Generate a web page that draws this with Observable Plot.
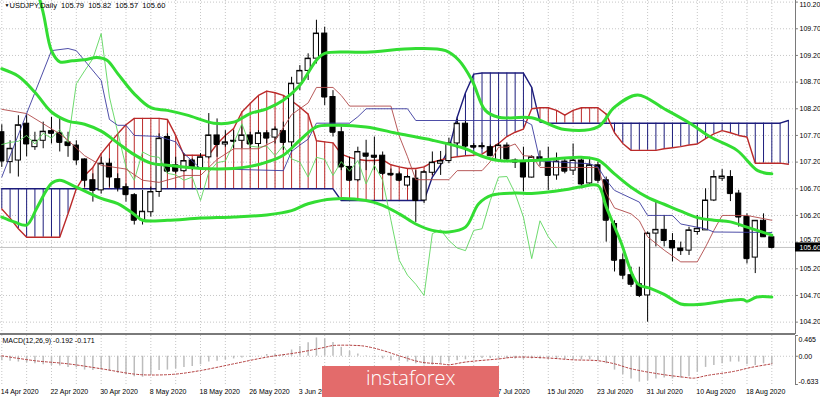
<!DOCTYPE html>
<html><head><meta charset="utf-8">
<script src="https://cdn.jsdelivr.net/npm/d3@7"></script>
<script src="https://cdn.jsdelivr.net/npm/@observablehq/plot@0.6"></script>
<style>
html,body{margin:0;padding:0;background:#fff;}
body{width:820px;height:397px;overflow:hidden;position:relative;font-family:"Liberation Sans",Arial,sans-serif;}
#main svg,#macd svg{display:block;}
#logo{position:absolute;left:322px;top:366px;width:177px;height:31px;background:#e36b6b;}
#logotext{position:absolute;left:366px;top:368px;font-family:"Open Sans",sans-serif;font-weight:300;font-size:20px;line-height:20px;color:#fff;white-space:nowrap;}
</style></head>
<body>
<div id="main"></div>
<div id="macd"></div>
<div id="logo"></div>
<div id="logotext">instaforex</div>
<script>
// ---- Data ----
const header = "USDJPY,Daily\u00A0\u00A0105.79\u00A0\u00A0105.82\u00A0\u00A0105.57\u00A0\u00A0105.60";
const macdHeader = "MACD(12,26,9) -0.192 -0.171";
const opens = [107.76,107.20,107.23,107.92,107.48,107.60,107.78,107.74,107.57,107.51,
 107.25,106.86,106.67,107.17,106.88,106.73,106.58,106.11,106.26,106.64,
 107.67,107.14,107.03,107.23,107.08,107.29,107.70,107.53,107.60,107.60,
 107.70,107.54,107.74,107.66,107.78,107.57,108.67,108.91,109.14,109.61,
 108.42,107.76,107.11,106.86,107.36,107.32,107.32,106.98,106.97,106.76,
 106.89,106.48,107.00,107.17,107.22,107.55,107.92,107.50,107.48,107.48,
 107.23,107.51,107.23,107.20,106.91,107.29,107.21,106.95,107.21,107.04,
 107.23,106.80,107.14,106.86,106.04,105.36,105.08,104.91,104.70,105.86,
 105.93,105.72,105.58,105.54,105.89,105.92,106.48,106.89,106.92,106.61,
 106.17,105.41,106.10,105.79];
const highs = [107.90,107.60,108.07,108.08,107.76,107.95,108.04,108.04,107.76,107.60,
 107.26,106.98,107.29,107.26,106.98,106.79,106.61,106.67,106.73,107.73,
 107.73,107.29,107.36,107.26,107.36,108.11,108.01,107.79,107.79,107.89,
 107.76,107.79,107.79,107.86,107.95,108.79,109.01,109.23,109.86,109.73,
 108.54,107.86,107.29,107.48,107.61,107.67,107.39,107.07,107.01,106.95,
 107.04,107.04,107.39,107.40,107.65,108.00,107.98,107.55,107.56,107.52,
 107.55,107.56,107.26,107.48,107.32,107.41,107.48,107.37,107.26,107.54,
 107.26,107.29,107.20,106.92,106.10,105.48,105.23,105.23,105.89,106.48,
 106.20,105.86,105.70,105.98,106.20,106.70,107.04,107.06,107.04,106.67,
 106.23,106.10,106.23,105.82];
const lows = [107.10,106.98,106.92,107.30,107.42,107.45,107.54,107.39,107.29,107.14,
 106.73,106.45,106.60,106.73,106.64,106.45,106.02,106.02,106.17,106.54,
 106.98,106.98,107.01,107.04,107.04,107.26,107.29,107.48,107.45,107.45,
 107.45,107.48,107.54,107.54,107.42,107.39,108.54,108.73,109.04,108.26,
 107.67,107.04,106.83,106.83,107.04,107.04,106.95,106.93,106.83,106.73,
 106.07,106.42,106.95,106.95,107.17,107.45,107.40,107.44,107.44,107.30,
 107.20,107.22,107.08,106.64,106.90,107.12,106.67,106.86,106.98,106.95,
 106.70,106.75,106.80,105.70,105.14,105.00,104.85,104.66,104.20,105.61,
 105.61,105.33,105.45,105.45,105.83,105.92,106.46,106.84,106.46,105.98,
 105.29,105.11,105.79,105.57];
const closes = [107.22,107.45,107.89,107.54,107.60,107.77,107.74,107.57,107.51,107.24,
 106.86,106.67,107.17,106.92,106.72,106.59,106.11,106.27,106.64,107.64,
 107.03,107.03,107.22,107.08,107.29,107.70,107.53,107.57,107.59,107.70,
 107.54,107.74,107.65,107.81,107.57,108.67,108.91,109.14,109.61,108.42,
 107.76,107.11,106.86,107.39,107.31,107.29,106.99,106.96,106.86,106.92,
 106.48,107.01,107.19,107.22,107.55,107.92,107.50,107.48,107.50,107.32,
 107.51,107.26,107.20,106.92,107.29,107.25,106.95,107.21,107.03,107.23,
 106.79,107.14,106.86,106.11,105.36,105.08,104.91,104.70,105.86,105.93,
 105.73,105.59,105.54,105.92,105.95,106.48,106.92,106.93,106.61,106.17,
 105.39,106.10,105.80,105.60];
const lastPrice = 105.60;

// Ichimoku cloud (per bar, extends 2 bars beyond last candle)
const spanA = [106.32,106.15,105.95,105.79,105.79,105.79,105.79,105.79,106.23,106.70,
 106.95,107.10,107.36,107.55,107.73,107.90,108.02,108.02,108.02,108.02,
 108.00,107.70,107.33,107.33,107.33,107.33,107.54,107.70,107.83,108.14,
 108.30,108.45,108.53,108.50,108.45,108.35,108.23,108.10,107.60,107.58,
 107.56,107.35,107.29,107.25,107.23,107.23,107.24,107.15,107.11,107.08,
 107.08,107.11,107.20,107.24,107.28,107.30,107.32,107.33,107.35,107.45,
 107.55,107.68,107.76,107.82,108.20,108.22,108.22,108.17,108.08,108.17,
 108.22,108.22,108.22,108.10,107.75,107.55,107.42,107.42,107.42,107.42,
 107.45,107.47,107.49,107.52,107.54,107.64,107.73,107.79,107.75,107.70,
 107.67,107.18,107.18,107.18,107.18,107.16];
const spanB = [106.70,106.70,106.70,106.70,106.70,106.70,106.70,106.70,106.70,106.70,
 106.70,106.70,106.70,106.70,106.70,106.70,106.70,106.70,106.70,106.70,
 106.70,106.70,106.70,106.70,106.70,106.70,106.70,106.70,106.70,106.70,
 106.70,106.70,106.70,106.70,106.70,106.70,106.70,106.70,106.70,106.70,
 106.70,106.48,106.48,106.48,106.48,106.48,106.48,106.48,106.48,106.48,
 106.48,106.48,106.92,107.15,107.45,108.04,108.50,108.85,108.87,108.87,
 108.87,108.87,108.87,108.87,108.60,107.95,107.93,107.93,107.93,107.93,
 107.93,107.93,107.93,107.93,107.93,107.93,107.93,107.93,107.93,107.93,
 107.93,107.93,107.93,107.93,107.93,107.93,107.93,107.93,107.93,107.93,
 107.93,107.93,107.93,107.93,107.93,107.98];

// Tenkan / Kijun (bar index, value)
const tenkanPts = [[0,108.19],[3,108.11],[5,107.92],[7,107.73],[8,107.61],[10,107.32],[12,107.14],[15,107.07],[17,106.86],[19,106.82],[22,106.95],[24,106.95],[26,107.25],[28,107.45],[31,107.45],[33,107.60],[35,108.09],[36,108.20],[37,108.31],[38,108.60],[40,108.60],[41,108.45],[42,108.25],[47,108.25],[48,107.69],[49,107.30],[50,106.87],[54,106.87],[55,107.04],[58,107.04],[59,107.21],[60,107.48],[61,107.48],[62,107.54],[63,107.32],[64,107.31],[65,107.10],[72,107.10],[73,106.62],[74,106.34],[76,106.23],[77,106.10],[78,105.80],[80,105.55],[82,105.33],[84,105.33],[85,105.61],[86,105.92],[87,106.20],[90,106.20],[93,106.11]];
const kijunPts = [[0,106.92],[3,108.11],[6,109.29],[8,109.33],[9,109.29],[12,108.73],[13,108.00],[14,107.89],[15,107.89],[16,107.70],[19,107.68],[21,107.58],[22,107.36],[24,107.08],[34,107.04],[35,107.40],[36,107.52],[37,107.63],[38,107.93],[42,107.93],[43,108.05],[44,108.20],[49,108.20],[50,107.98],[63,107.98],[64,107.90],[65,107.22],[71,107.17],[72,107.11],[73,106.86],[74,106.67],[77,106.45],[78,106.20],[81,106.20],[82,106.04],[85,105.95],[86,105.89],[93,105.88]];

// Bollinger bands (bar index, value)
const bbUpperPts = [[0,111.90],[2,111.30],[4,110.55],[5,110.00],[6,109.29],[7,109.08],[8.5,109.10],[10,109.12],[11.5,109.16],[12.7,109.11],[14,108.86],[16,108.48],[18,108.22],[20,108.17],[22.4,108.08],[25.6,107.93],[28,107.95],[30,108.11],[32,108.20],[34,108.36],[36,108.64],[38,109.11],[39,109.24],[44,109.26],[50,109.33],[53.6,109.29],[55.2,109.11],[56.8,108.73],[58.4,108.17],[60,108.04],[64,108.03],[68,107.81],[72,107.86],[74,108.23],[76.8,108.46],[80,108.20],[83.2,107.92],[85.6,107.67],[88.8,107.42],[91.3,107.04],[93,106.98]];
const bbMidPts = [[0,108.95],[2,108.81],[4,108.51],[6,108.14],[8,107.97],[10,107.91],[12,107.78],[14,107.56],[16,107.34],[18,107.18],[20,107.14],[24,107.08],[28,107.08],[30,107.12],[32,107.20],[34,107.33],[36,107.61],[38,107.86],[40,107.89],[44,107.86],[48,107.73],[52,107.61],[56,107.45],[58,107.31],[60,107.23],[64,107.23],[70,107.29],[72,107.24],[74,106.98],[76,106.73],[78,106.54],[80,106.41],[82,106.28],[84,106.16],[86,106.11],[88,106.08],[90,105.98],[93,105.83]];
const bbLowerPts = [[0,106.17],[1.5,106.08],[3,106.02],[4.3,106.36],[6,106.80],[7,106.86],[9,106.73],[12,106.52],[14,106.42],[16,106.22],[17,106.11],[20,106.11],[24,106.15],[28,106.17],[32,106.21],[35,106.29],[37,106.42],[40,106.51],[44,106.48],[46,106.39],[48,106.23],[50,106.04],[52,105.92],[54,105.89],[56,105.98],[57.6,106.42],[59.2,106.58],[62,106.62],[64,106.61],[68,106.68],[70,106.74],[72,106.76],[73,106.36],[74.7,105.73],[76.8,104.92],[78.4,104.83],[80,104.72],[82,104.54],[84,104.53],[88,104.61],[89.6,104.62],[90,104.59],[91.2,104.67],[93,104.67]];

// MACD (per bar) and signal (bar index, value)
const macdHist = [-0.10,-0.11,-0.13,-0.15,-0.17,-0.19,-0.21,-0.22,-0.25,-0.26,
 -0.31,-0.32,-0.31,-0.34,-0.38,-0.41,-0.46,-0.47,-0.42,-0.32,
 -0.31,-0.28,-0.25,-0.23,-0.19,-0.13,-0.11,-0.08,-0.06,-0.04,
 -0.02,-0.01,0.04,0.04,0.04,0.14,0.22,0.30,0.41,0.39,
 0.31,0.20,0.11,0.05,0.01,-0.01,-0.06,-0.10,-0.11,-0.13,
 -0.17,-0.19,-0.20,-0.17,-0.13,-0.10,-0.08,-0.06,-0.05,-0.05,
 -0.06,-0.05,-0.06,-0.07,-0.06,-0.06,-0.07,-0.06,-0.07,-0.07,
 -0.08,-0.08,-0.10,-0.17,-0.31,-0.41,-0.51,-0.58,-0.55,-0.51,
 -0.49,-0.51,-0.49,-0.46,-0.36,-0.25,-0.21,-0.17,-0.13,-0.13,
 -0.19,-0.21,-0.17,-0.19];
const signalPts = [[0,0.01],[4,-0.10],[8,-0.17],[12,-0.28],[16,-0.40],[18,-0.42],[21,-0.40],[24,-0.32],[28,-0.17],[32,-0.02],[36,0.09],[39,0.20],[40,0.24],[43,0.24],[44,0.22],[46,0.13],[48,0.01],[50.6,-0.13],[53,-0.17],[54,-0.19],[56,-0.13],[60,-0.06],[62,-0.02],[66,-0.04],[69,-0.08],[72,-0.10],[74,-0.17],[76,-0.28],[79.5,-0.40],[82.4,-0.47],[83.6,-0.49],[85.2,-0.43],[88.4,-0.34],[90.5,-0.25],[93,-0.17]];

// Ticks (labels hidden under the logo in the reference are left out)
const priceTicks = [104.20,104.70,105.20,105.70,106.20,106.70,107.20,107.70,108.20,108.70,109.20,109.70,110.20];
const macdTicks = [0.465, 0, -0.633];
const macdTickLabels = ["0.465","0.00","-0.633"];
const dateTicks = [0,6,12,18,24,30,36,60,66,72,78,84,90];
const dateLabels = ["14 Apr 2020","22 Apr 2020","30 Apr 2020","8 May 2020","18 May 2020","26 May 2020","3 Jun 2020","7 Jul 2020","15 Jul 2020","23 Jul 2020","31 Jul 2020","10 Aug 2020","18 Aug 2020"];
const chikouShift = 26;

// ---- Build tables ----
const candles = opens.map((o, i) => ({i, o, h: highs[i], l: lows[i], c: closes[i]}));
const cloud = spanA.map((a, i) => ({i, a, b: spanB[i]}));
const chikou = closes.slice(chikouShift).map((c, k) => ({i: k, c}));
const hist = macdHist.map((v, i) => ({i, v}));
const gridIdx = d3.range(0, opens.length, 3);

const XD = [-0.157, 95.86];
const YD = [103.968, 110.23];
const RED = "#bb2a2a", NAVY = "#1d1d7c", GREEN = "#33dd33", GRID = "#c6c6c6", AX = "#7a7a7a";
const font = {fontFamily: "'Liberation Sans', Arial, sans-serif", fontSize: "7px", background: "#fff", color: "#000"};
const hw = 0.31;

const main = Plot.plot({
  width: 820, height: 335, marginLeft: 0, marginRight: 25, marginTop: 0, marginBottom: 1,
  x: {domain: XD, axis: null},
  y: {domain: YD, axis: null},
  style: font,
  marks: [
    Plot.ruleY(priceTicks, {stroke: GRID, strokeDasharray: "1,2"}),
    Plot.ruleX(gridIdx, {stroke: GRID, strokeDasharray: "1,2"}),
    Plot.ruleY([lastPrice], {stroke: "#c2c2c2"}),
    Plot.ruleX(cloud, {x: "i", y1: "a", y2: "b", stroke: d => d.a >= d.b ? RED : NAVY, strokeWidth: 1, clip: true}),
    Plot.line(cloud, {x: "i", y: "b", stroke: NAVY, strokeWidth: 1.4, clip: true}),
    Plot.line(cloud, {x: "i", y: "a", stroke: RED, strokeWidth: 1.4, clip: true}),
    Plot.ruleX(candles, {x: "i", y1: "l", y2: "h", stroke: "#000", strokeWidth: 1}),
    Plot.rect(candles, {x1: d => d.i - hw, x2: d => d.i + hw, y1: d => Math.min(d.o, d.c), y2: d => Math.max(d.o, d.c), fill: d => d.c >= d.o ? "#fff" : "#000", stroke: "#000", strokeWidth: 1}),
    Plot.ruleY(candles, {x1: d => d.i - hw, x2: d => d.i + hw, y: "c", stroke: "#000"}),
    Plot.line(chikou, {x: "i", y: "c", stroke: "#5ed65e", strokeWidth: 0.9, clip: true}),
    Plot.line(tenkanPts, {x: d => d[0], y: d => d[1], stroke: "#b04848", strokeWidth: 0.9, clip: true}),
    Plot.line(kijunPts, {x: d => d[0], y: d => d[1], stroke: "#3a3a9e", strokeWidth: 0.9, clip: true}),
    Plot.line(bbUpperPts, {x: d => d[0], y: d => d[1], stroke: GREEN, strokeWidth: 3, curve: "catmull-rom", clip: true}),
    Plot.line(bbMidPts, {x: d => d[0], y: d => d[1], stroke: GREEN, strokeWidth: 3, curve: "catmull-rom", clip: true}),
    Plot.line(bbLowerPts, {x: d => d[0], y: d => d[1], stroke: GREEN, strokeWidth: 3, curve: "catmull-rom", clip: true}),
    Plot.ruleX([XD[1]], {stroke: AX}),
    Plot.ruleY(priceTicks, {x1: XD[1], x2: XD[1] + 0.35, stroke: AX}),
    Plot.text(priceTicks.filter(d => d !== 105.70 && d !== 110.20), {x: XD[1], y: d => d, text: d => d.toFixed(2), dx: 4, textAnchor: "start", fill: "#000"}),
    Plot.text([105.70], {x: XD[1], y: d => d, text: d => d.toFixed(2), dx: 4, dy: -2, textAnchor: "start", fill: "#000"}),
    Plot.text([110.20], {x: XD[1], y: d => d, text: d => d.toFixed(2), dx: 4, dy: 2.5, textAnchor: "start", fill: "#000"}),
    Plot.rect([lastPrice], {x1: XD[1], x2: XD[1] + 3.1, y1: d => d - 0.085, y2: d => d + 0.085, fill: "#000"}),
    Plot.text([lastPrice], {x: XD[1], y: d => d, text: d => d.toFixed(2), dx: 4, textAnchor: "start", fill: "#fff"}),
    Plot.text(["\u25BC"], {frameAnchor: "top-left", dx: 4, dy: 3, fontSize: 5, fill: "#000"}),
    Plot.text([header], {frameAnchor: "top-left", dx: 9, dy: 2, textAnchor: "start", fontSize: 7.5, fill: "#000"}),
    Plot.ruleY([YD[0]], {stroke: AX, strokeWidth: 3})
  ]
});
document.getElementById("main").appendChild(main);

const macd = Plot.plot({
  width: 820, height: 62, marginLeft: 0, marginRight: 25, marginTop: 0, marginBottom: 13,
  x: {domain: XD, axis: null},
  y: {domain: [-0.633, 0.465], axis: null},
  style: font,
  marks: [
    Plot.ruleX(gridIdx, {stroke: GRID, strokeDasharray: "1,2"}),
    Plot.ruleY([0], {stroke: GRID, strokeDasharray: "1,2"}),
    Plot.ruleX(hist, {x: "i", y1: 0, y2: "v", stroke: "#bcbcbc", strokeWidth: 1.5}),
    Plot.line(signalPts, {x: d => d[0], y: d => d[1], stroke: "#b23c3c", strokeWidth: 1, strokeDasharray: "2,2", curve: "catmull-rom"}),
    Plot.ruleX([XD[1]], {stroke: AX}),
    Plot.ruleY(macdTicks, {x1: XD[1], x2: XD[1] + 0.35, stroke: AX}),
    Plot.text([macdTicks[0]], {x: XD[1], y: d => d, text: () => macdTickLabels[0], dx: 3, dy: 4, textAnchor: "start", fill: "#000"}),
    Plot.text([macdTicks[1]], {x: XD[1], y: d => d, text: () => macdTickLabels[1], dx: 3, dy: 0, textAnchor: "start", fill: "#000"}),
    Plot.text([macdTicks[2]], {x: XD[1], y: d => d, text: () => macdTickLabels[2], dx: 3, dy: -3, textAnchor: "start", fill: "#000"}),
    Plot.text([macdHeader], {frameAnchor: "top-left", dx: 2, dy: 3, textAnchor: "start", fill: "#000"}),
    Plot.text(dateTicks, {x: d => d, y: -0.633, text: (d, k) => dateLabels[k], dx: -1, dy: 7, textAnchor: "start", fill: "#000"})
  ]
});
document.getElementById("macd").appendChild(macd);
</script>
</body></html>
